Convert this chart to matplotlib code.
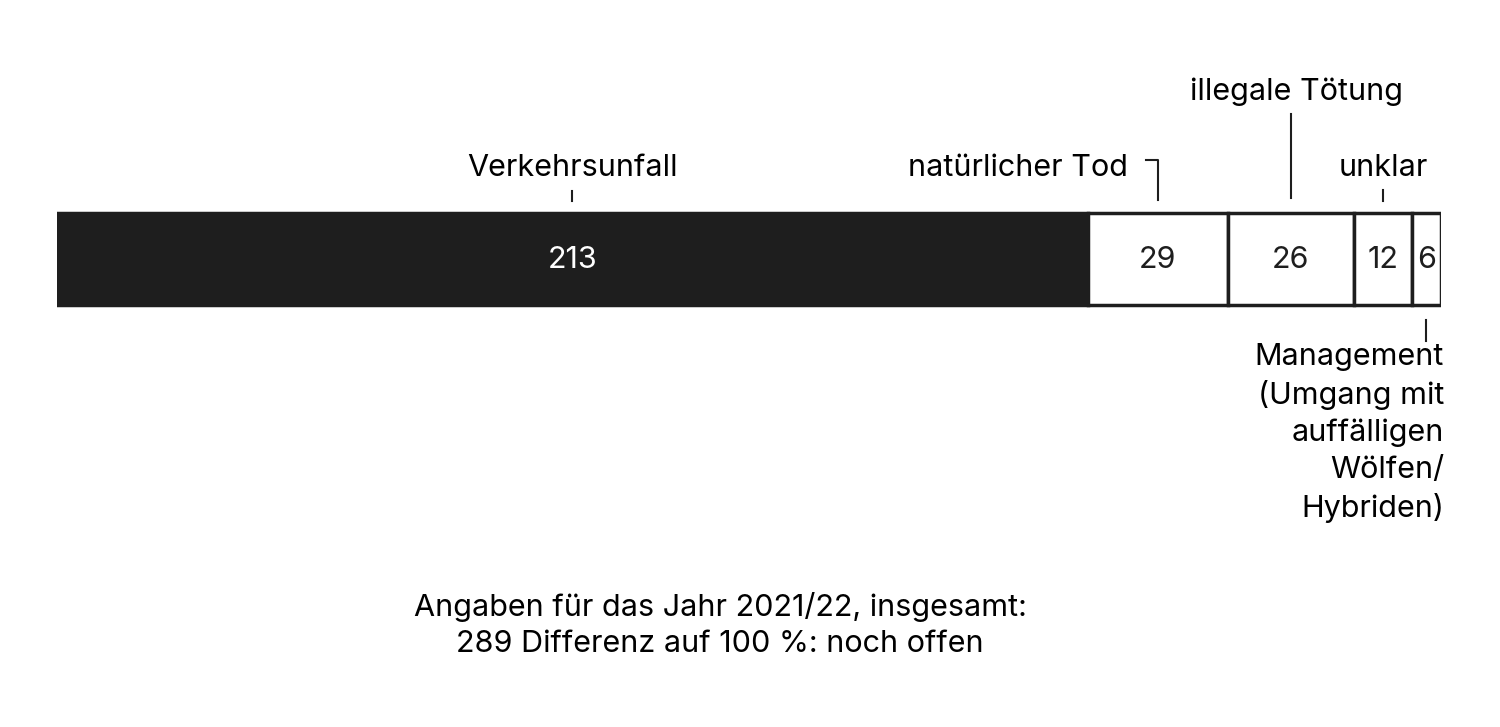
import matplotlib
matplotlib.use("Agg")
import matplotlib.pyplot as plt

categories = ["Verkehrsunfall", "natürlicher Tod", "illegale Tötung", "unklar",
              "Management\n(Umgang mit\nauffälligen\nWölfen/\nHybriden)"]
values = [213, 29, 26, 12, 6]
colors = ["#1e1e1e", "white", "white", "white", "white"]
footer = "Angaben für das Jahr 2021/22, insgesamt:\n289 Differenz auf 100 %: noch offen"

plt.rcParams['font.family'] = ['Inter', 'DejaVu Sans']
W, H = 1500, 727
fig = plt.figure(figsize=(15, 7.27), dpi=100)
total = sum(values)
ax = fig.add_axes([57/W, 0, 1384/W, 1])
ax.set_xlim(0, total)
ax.set_ylim(H, 0)
ax.axis('off')
px = total/1384  # data units per pixel

lefts = []
acc = 0
fs = 22
for v, c in zip(values, colors):
    lefts.append(acc)
    ax.barh(259, v, left=acc, height=92, color=c, edgecolor="#1e1e1e", linewidth=2.5)
    ax.text(acc + v/2, 260, str(v), ha='center', va='center', fontsize=fs,
            color='white' if c != 'white' else '#1e1e1e')
    acc += v
centers = [l + v/2 for l, v in zip(lefts, values)]
k = '#1e1e1e'
ax.text(centers[0], 168, categories[0], ha='center', va='center', fontsize=fs)
ax.plot([centers[0]]*2, [191, 201], color=k, lw=1.5)
x1 = centers[1]
ax.text(x1 - 30*px, 168, categories[1], ha='right', va='center', fontsize=fs)
ax.plot([x1 - 12*px, x1, x1], [160, 160, 200], color=k, lw=1.5)
x2 = centers[2]
ax.text(x2 + 6*px, 92, categories[2], ha='center', va='center', fontsize=fs)
ax.plot([x2, x2], [114, 198], color=k, lw=1.5)
x3 = centers[3]
ax.text(x3, 168, categories[3], ha='center', va='center', fontsize=fs)
ax.plot([x3, x3], [190, 201], color=k, lw=1.5)
x4 = centers[4]
ax.plot([x4, x4], [320, 341], color=k, lw=1.5)
ax.text(total + 3*px, 343, categories[4], ha='right', va='top', fontsize=fs, linespacing=1.38)
ax.text((720-57)*px, 625, footer, ha='center', va='center', fontsize=fs, linespacing=1.35)
fig.savefig("out.png", dpi=100, facecolor='white')
